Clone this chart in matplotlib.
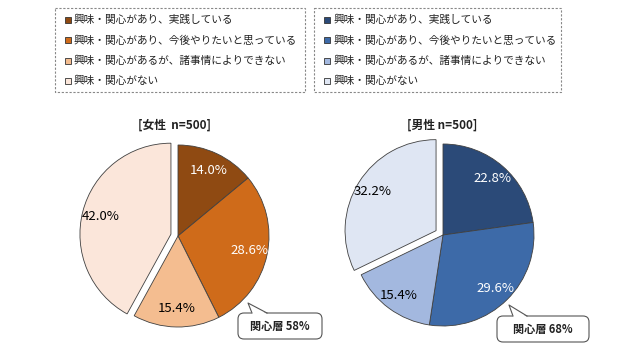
import matplotlib
matplotlib.use("Agg")
import matplotlib.pyplot as plt
from matplotlib.patches import Rectangle, FancyBboxPatch, Polygon

plt.rcParams['font.family'] = ['Noto Sans CJK JP', 'DejaVu Sans']

# data
categories = ['興味・関心があり、実践している',
              '興味・関心があり、今後やりたいと思っている',
              '興味・関心があるが、諸事情によりできない',
              '興味・関心がない']
female = [14.0, 28.6, 15.4, 42.0]
male = [22.8, 29.6, 15.4, 32.2]
female_title = '[女性  n=500]'
male_title = '[男性 n=500]'

female_colors = ['#8f4a12', '#cf6b1a', '#f4bd90', '#fbe6da']
male_colors = ['#2b4a78', '#3d6aa8', '#a3b8df', '#dfe6f3']
pct_colors = ['white', 'white', 'black', 'black']

W, H = 640, 358
fig = plt.figure(figsize=(W / 100, H / 100), dpi=100)

R = 91  # pie radius in px
LIM = 1.2


def pie_axes(cx, cy):
    size = 2 * LIM * R
    return fig.add_axes([(cx - size / 2) / W, (H - cy - size / 2) / H, size / W, size / H])


def draw_pie(ax, values, colors, explode, pctdist):
    wedges, _, autotexts = ax.pie(values, colors=colors, startangle=90, counterclock=False,
                                  explode=[0, 0, 0, explode], autopct='%.1f%%', pctdistance=pctdist,
                                  wedgeprops=dict(edgecolor='#404040', linewidth=0.6))
    for t, c in zip(autotexts, pct_colors):
        t.set_color(c)
        t.set_fontsize(9.5)
    ax.set_xlim(-LIM, LIM)
    ax.set_ylim(-LIM, LIM)
    ax.set_aspect('equal')
    ax.axis('off')


ax_f = pie_axes(178, 236)
draw_pie(ax_f, female, female_colors, 0.08, 0.8)
ax_m = pie_axes(443, 235)
draw_pie(ax_m, male, male_colors, 0.09, 0.82)

# overlay in pixel coordinates for legends, titles and callouts
ov = fig.add_axes([0, 0, 1, 1], zorder=5)
ov.set_xlim(0, W)
ov.set_ylim(H, 0)
ov.axis('off')


def legend_box(x0, x1, colors):
    ov.add_patch(Rectangle((x0, 8), x1 - x0, 84, fill=False, edgecolor='#888888',
                           linewidth=0.8, linestyle=(0, (2, 1.5))))
    for i, (label, c) in enumerate(zip(categories, colors)):
        y = 20 + i * 20.3
        ov.add_patch(Rectangle((x0 + 10, y - 3), 6, 6, facecolor=c, edgecolor='#333333', linewidth=0.6))
        ov.text(x0 + 19, y, label, fontsize=7.7, va='center', ha='left', color='#222222')


legend_box(55, 305, female_colors)
legend_box(314, 561, male_colors)

ov.text(175, 125, female_title, fontsize=8.5, fontweight='bold', ha='center', va='center', color='#222222')
ov.text(442, 125, male_title, fontsize=8.5, fontweight='bold', ha='center', va='center', color='#222222')


def callout(x0, y0, x1, y1, tail, text):
    ov.add_patch(FancyBboxPatch((x0, y0), x1 - x0, y1 - y0, boxstyle='round,pad=0,rounding_size=6',
                                facecolor='white', edgecolor='#555555', linewidth=0.8))
    bx0, bx1, tip = tail
    ov.add_patch(Polygon([(bx0, y0 + 1), tip, (bx1, y0 + 1)], closed=True, facecolor='white',
                         edgecolor='none'))
    ov.plot([bx0, tip[0], bx1], [y0, tip[1], y0], color='#555555', linewidth=0.8)
    ov.text((x0 + x1) / 2, (y0 + y1) / 2, text, fontsize=8, fontweight='bold',
            ha='center', va='center', color='#222222')


female_interest = round(sum(female[:3]))
male_interest = round(sum(male[:3]))
callout(238, 313, 322, 339, (252, 267, (248, 303)), f'関心層 {female_interest}%')
callout(497, 316, 589, 342, (513, 527, (509, 305)), f'関心層 {male_interest}%')

fig.savefig('out.png', dpi=100, facecolor='white')
